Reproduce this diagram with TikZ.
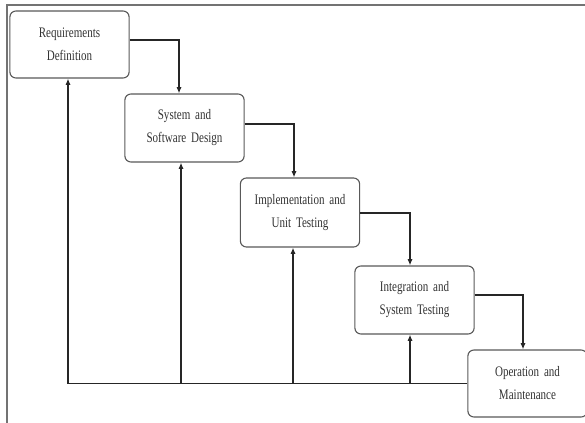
\documentclass[tikz,border=0pt]{standalone}
\usepackage{fontspec}
\newfontfamily\boxfont[FakeStretch=0.76]{Liberation Serif}
\usepackage{tikz}
\usetikzlibrary{arrows.meta}
\tikzset{>={Latex[width=1.3mm,length=1.6mm]}}
\tikzset{phase/.style={shape=rectangle,draw=black!65,line width=0.8pt,rounded corners=0.06in,fill=white,minimum width=1.15in,minimum height=0.68in,text width=1.1in,align=center,font={\boxfont\fontsize{10.5}{16.6}\selectfont},text=black!80}}
\tikzset{flow/.style={draw=black!85,line width=1.1pt}}

\begin{document}
\begin{tikzpicture}

\useasboundingbox (0,0) rectangle (5.85in,-4.23in);
\draw[black!55,line width=1pt] (0.07in,-4.23in) -- (0.07in,-0.05in) -- (5.85in,-0.05in);

\path (0.695in,-0.445in) node [phase,minimum height=0.67in] (req) {Requirements\\Definition};

\path (1.845in,-1.28in) node [phase] (des) {System and\\Software Design};

\path (3.0in,-2.125in) node [phase,minimum width=1.16in,minimum height=0.69in] (imp) {Implementation and\\Unit Testing};

\path (4.145in,-3.0in) node [phase] (integ) {Integration and\\System Testing};

\path (5.275in,-3.835in) node [phase,minimum width=1.11in,minimum height=0.67in] (op) {Operation and\\Maintenance};

\draw[flow,->] ([yshift=0.045in]req.east) -| ([xshift=-0.055in]des.north);
\draw[flow,->] ([yshift=0.04in]des.east) -| ([xshift=-0.06in]imp.north);
\draw[flow,->] ([yshift=-0.005in]imp.east) -| ([xshift=-0.045in]integ.north);
\draw[flow,->] ([yshift=0.05in]integ.east) -| ([xshift=-0.045in]op.north);

\coordinate (fb1) at ([xshift=-0.015in]req.south |- op.west);
\coordinate (fb2) at ([xshift=-0.035in]des.south |- op.west);
\coordinate (fb3) at ([xshift=-0.07in]imp.south |- op.west);
\coordinate (fb4) at ([xshift=-0.045in]integ.south |- op.west);

\draw[flow] (op.west) -- (fb1);
\draw[flow,->] (fb1) -- (fb1 |- req.south);
\draw[flow,->] (fb2) -- (fb2 |- des.south);
\draw[flow,->] (fb3) -- (fb3 |- imp.south);
\draw[flow,->] (fb4) -- (fb4 |- integ.south);

\end{tikzpicture}
\end{document}
